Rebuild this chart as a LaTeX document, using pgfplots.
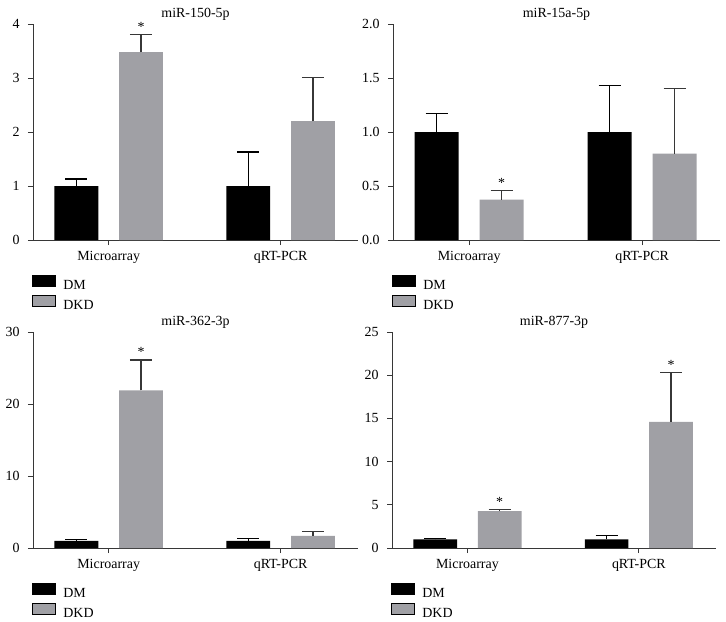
\documentclass[border=0pt]{standalone}
\usepackage{fontspec}
\setmainfont{Liberation Serif}
\usepackage{pgfplots}
\pgfplotsset{compat=1.18}

\definecolor{dkd}{RGB}{160,160,165}
\definecolor{axgray}{RGB}{55,55,55}
\newcommand{\lblfont}{\fontsize{14}{16}\selectfont}

\pgfplotsset{
  panel/.style={
    scale only axis, width=325bp, height=216bp, anchor=south west,
    xmin=-0.44, xmax=1.45, ymin=0,
    axis lines*=left, tick pos=left, tick align=outside,
    major tick length=5bp,
    xtick={0,1}, xticklabels={Microarray,qRT-PCR},
    axis line style={line width=1bp, axgray},
    tick style={line width=1bp, axgray},
    tick label style={font=\lblfont},
    yticklabel style={xshift=-5bp},
    xticklabel style={yshift=-3bp},
    /pgf/number format/assume math mode=true,
    clip=false,
    title style={yshift=-6bp, font=\lblfont},
    legend cell align=left,
    legend style={at={(0,0)}, anchor=north west, yshift=-35bp, xshift=-1bp,
      draw=none, fill=none, inner sep=0pt, outer sep=0pt, row sep=6bp, font=\lblfont,
      nodes={inner sep=0pt, text height=9bp, text depth=0bp}},
    legend image code/.code={\fill[##1] (0bp,-1.5bp) rectangle (23bp,9.5bp); \path (31bp,0bp);},
  },
  dm/.style={ybar, forget plot, fill=black, draw=none, bar width=0.255, bar shift=0,
    error bars/.cd, y dir=plus, y explicit,
    error bar style={line width=1.2bp, black},
    error mark options={rotate=90, mark size=11bp, line width=1.2bp, black}},
  dkd/.style={ybar, forget plot, fill=dkd, draw=none, bar width=0.255, bar shift=0,
    error bars/.cd, y dir=plus, y explicit,
    error bar style={line width=1.2bp, axgray},
    error mark options={rotate=90, mark size=11bp, line width=1.2bp, axgray}},
}
\tikzset{sigstar/.style={anchor=south, inner sep=1bp, yshift=2bp, font=\lblfont}}

\begin{document}
\begin{tikzpicture}
\path[use as bounding box] (0bp,0bp) rectangle (726bp,-622bp);

% miR-150-5p
\begin{axis}[panel, at={(33bp,-240bp)}, ymax=4, ytick={0,1,2,3,4}, title={miR-150-5p}]
\addplot[dm] table[x=x, y=y, y error=e] {
x y e
-0.188 1.00 0.13
0.812 1.00 0.63
};
\addplot[dkd] table[x=x, y=y, y error=e] {
x y e
0.188 3.48 0.33
1.188 2.20 0.81
};
\addlegendimage{fill=black}
\addlegendentry{DM}
\addlegendimage{fill=dkd}
\addlegendentry{DKD}
\node[sigstar] at (axis cs:0.188,3.81) {*};
\end{axis}

% miR-15a-5p
\begin{axis}[panel, at={(393bp,-240bp)}, width=327bp, ymax=2, ytick={0,0.5,1,1.5,2},
  yticklabel style={/pgf/number format/.cd, fixed, fixed zerofill, precision=1},
  title={miR-15a-5p}]
\addplot[dm] table[x=x, y=y, y error=e] {
x y e
-0.188 1.00 0.17
0.812 1.00 0.43
};
\addplot[dkd] table[x=x, y=y, y error=e] {
x y e
0.188 0.375 0.08
1.188 0.80 0.60
};
\addlegendimage{fill=black}
\addlegendentry{DM}
\addlegendimage{fill=dkd}
\addlegendentry{DKD}
\node[sigstar] at (axis cs:0.188,0.455) {*};
\end{axis}

% miR-362-3p
\begin{axis}[panel, at={(33bp,-548bp)}, ymax=30, ytick={0,10,20,30}, title={miR-362-3p}]
\addplot[dm] table[x=x, y=y, y error=e] {
x y e
-0.188 1.00 0.20
0.812 1.00 0.30
};
\addplot[dkd] table[x=x, y=y, y error=e] {
x y e
0.188 21.9 4.2
1.188 1.7 0.55
};
\addlegendimage{fill=black}
\addlegendentry{DM}
\addlegendimage{fill=dkd}
\addlegendentry{DKD}
\node[sigstar] at (axis cs:0.188,26.1) {*};
\end{axis}

% miR-877-3p
\begin{axis}[panel, at={(392bp,-548bp)}, width=324bp, ymax=25, ytick={0,5,10,15,20,25}, title={miR-877-3p}]
\addplot[dm] table[x=x, y=y, y error=e] {
x y e
-0.188 1.00 0.12
0.812 1.00 0.47
};
\addplot[dkd] table[x=x, y=y, y error=e] {
x y e
0.188 4.28 0.15
1.188 14.6 5.7
};
\addlegendimage{fill=black}
\addlegendentry{DM}
\addlegendimage{fill=dkd}
\addlegendentry{DKD}
\node[sigstar] at (axis cs:0.188,4.43) {*};
\node[sigstar] at (axis cs:1.188,20.3) {*};
\end{axis}
\end{tikzpicture}
\end{document}
